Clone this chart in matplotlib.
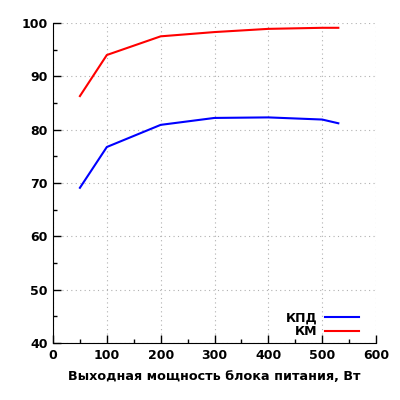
import matplotlib
matplotlib.use("Agg")
import matplotlib.pyplot as plt
from matplotlib.ticker import MultipleLocator

power = [50, 100, 200, 300, 400, 500, 530]
kpd = [69.1, 76.75, 80.9, 82.2, 82.3, 81.9, 81.2]
km = [86.3, 94.0, 97.5, 98.3, 98.9, 99.1, 99.1]
xlabel = "Выходная мощность блока питания, Вт"

plt.rcParams['font.family'] = ['DejaVu Sans']
plt.rcParams['font.weight'] = 'bold'

fig = plt.figure(figsize=(4, 4), dpi=100)
ax = fig.add_axes([0.1325, 0.1425, 0.8075, 0.8])
ax.plot(power, kpd, color='#0000ff', lw=1.5, label='КПД')
ax.plot(power, km, color='#ff0000', lw=1.5, label='КМ')
ax.set_xlim(0, 600)
ax.set_ylim(40, 100)
ax.xaxis.set_major_locator(MultipleLocator(100))
ax.xaxis.set_minor_locator(MultipleLocator(50))
ax.yaxis.set_major_locator(MultipleLocator(10))
ax.yaxis.set_minor_locator(MultipleLocator(5))
ax.spines['top'].set_visible(False)
ax.spines['right'].set_visible(False)
ax.tick_params(which='major', direction='in', length=6, width=1, labelsize=9, pad=4)
ax.tick_params(which='minor', direction='in', length=3, width=1)
for lab in ax.get_xticklabels() + ax.get_yticklabels():
    lab.set_fontweight('bold')
ax.grid(True, which='major', color='#b0b0b0', linestyle=(0, (1, 3)), lw=0.8)
ax.set_xlabel(xlabel, fontsize=9.2, fontweight='bold', labelpad=6)
leg = ax.legend(loc='lower right', frameon=False, markerfirst=False, fontsize=9,
                handlelength=2.7, handletextpad=0.6, labelspacing=0.05,
                borderaxespad=0.0, bbox_to_anchor=(0.963, 0.0))
for t in leg.get_texts():
    t.set_fontweight('bold')
fig.savefig('out.png', dpi=100)
